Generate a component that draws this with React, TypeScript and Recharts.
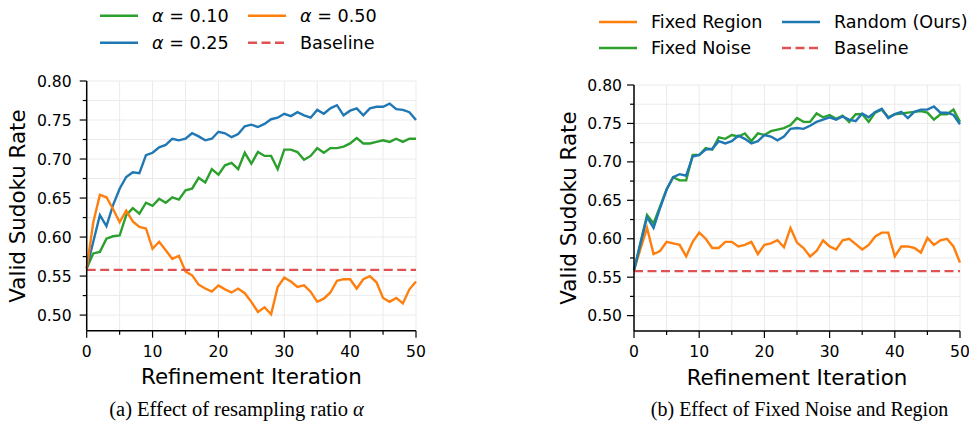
import { LineChart, Line, XAxis, YAxis, CartesianGrid, ReferenceLine } from "recharts"

const iterations = [
  0, 1, 2, 3, 4, 5, 6, 7, 8, 9, 10, 11, 12, 13, 14, 15, 16, 17, 18, 19, 20, 21, 22, 23, 24, 25,
  26, 27, 28, 29, 30, 31, 32, 33, 34, 35, 36, 37, 38, 39, 40, 41, 42, 43, 44, 45, 46, 47, 48, 49, 50,
]

// (a) resampling ratio
const alpha010 = [
  0.560, 0.579, 0.581, 0.598, 0.601, 0.602, 0.628, 0.637, 0.630, 0.644,
  0.640, 0.649, 0.644, 0.651, 0.648, 0.660, 0.662, 0.676, 0.670, 0.687,
  0.680, 0.692, 0.695, 0.687, 0.708, 0.694, 0.709, 0.704, 0.704, 0.687,
  0.712, 0.712, 0.709, 0.699, 0.704, 0.714, 0.708, 0.714, 0.714, 0.716,
  0.720, 0.727, 0.720, 0.720, 0.722, 0.724, 0.722, 0.726, 0.722, 0.726, 0.726,
]
const alpha025 = [
  0.560, 0.594, 0.628, 0.614, 0.641, 0.662, 0.677, 0.683, 0.682, 0.705,
  0.708, 0.715, 0.718, 0.726, 0.724, 0.726, 0.733, 0.729, 0.724, 0.726,
  0.735, 0.733, 0.728, 0.732, 0.742, 0.744, 0.741, 0.745, 0.751, 0.753,
  0.758, 0.755, 0.760, 0.756, 0.753, 0.763, 0.758, 0.765, 0.769, 0.756,
  0.762, 0.765, 0.756, 0.765, 0.767, 0.767, 0.771, 0.764, 0.763, 0.760, 0.750,
]
const alpha050 = [
  0.560, 0.619, 0.654, 0.651, 0.636, 0.619, 0.634, 0.620, 0.613, 0.611,
  0.585, 0.594, 0.583, 0.572, 0.576, 0.556, 0.551, 0.539, 0.534, 0.530,
  0.538, 0.533, 0.529, 0.534, 0.528, 0.517, 0.504, 0.510, 0.501, 0.536,
  0.548, 0.543, 0.536, 0.538, 0.530, 0.517, 0.521, 0.529, 0.544, 0.546,
  0.546, 0.534, 0.546, 0.550, 0.542, 0.522, 0.517, 0.522, 0.515, 0.533, 0.543,
]

// (b) fixed noise / region
const fixedRegion = [
  0.559, 0.587, 0.614, 0.580, 0.584, 0.596, 0.594, 0.592, 0.577, 0.596,
  0.608, 0.600, 0.588, 0.588, 0.596, 0.596, 0.590, 0.592, 0.596, 0.580,
  0.592, 0.594, 0.598, 0.589, 0.614, 0.595, 0.588, 0.577, 0.584, 0.598,
  0.590, 0.586, 0.598, 0.600, 0.593, 0.586, 0.592, 0.603, 0.608, 0.608,
  0.577, 0.590, 0.590, 0.588, 0.582, 0.601, 0.592, 0.598, 0.600, 0.590, 0.569,
]
const fixedNoise = [
  0.559, 0.595, 0.631, 0.620, 0.642, 0.664, 0.680, 0.676, 0.676, 0.709,
  0.709, 0.718, 0.716, 0.732, 0.730, 0.735, 0.733, 0.737, 0.727, 0.737,
  0.735, 0.740, 0.742, 0.744, 0.748, 0.757, 0.752, 0.752, 0.763, 0.758,
  0.761, 0.756, 0.760, 0.752, 0.762, 0.762, 0.752, 0.764, 0.768, 0.758,
  0.762, 0.763, 0.764, 0.765, 0.766, 0.764, 0.755, 0.762, 0.762, 0.768, 0.752,
]
const randomOurs = [
  0.559, 0.594, 0.628, 0.614, 0.640, 0.664, 0.680, 0.684, 0.682, 0.707,
  0.709, 0.716, 0.717, 0.727, 0.724, 0.727, 0.734, 0.730, 0.724, 0.727,
  0.735, 0.733, 0.728, 0.733, 0.743, 0.744, 0.743, 0.747, 0.752, 0.755,
  0.758, 0.755, 0.759, 0.755, 0.753, 0.763, 0.758, 0.765, 0.769, 0.757,
  0.762, 0.765, 0.757, 0.765, 0.768, 0.768, 0.772, 0.764, 0.764, 0.761, 0.749,
]

const baseline = 0.558

const xTicks = [0, 5, 10, 15, 20, 25, 30, 35, 40, 45, 50]
const xLabels = [0, 10, 20, 30, 40, 50]
const yTicks = [0.5, 0.525, 0.55, 0.575, 0.6, 0.625, 0.65, 0.675, 0.7, 0.725, 0.75, 0.775, 0.8]
const yLabels = [0.5, 0.55, 0.6, 0.65, 0.7, 0.75, 0.8]

const leftRows = iterations.map((it, i) => ({
  it,
  a010: alpha010[i],
  a025: alpha025[i],
  a050: alpha050[i],
}))
const rightRows = iterations.map((it, i) => ({
  it,
  region: fixedRegion[i],
  noise: fixedNoise[i],
  random: randomOurs[i],
}))

const FONT = "'DejaVu Sans', sans-serif"
const SERIF = "'Liberation Serif', serif"
const BLUE = "#1f77b4"
const ORANGE = "#ff7f0e"
const GREEN = "#2ca02c"
const RED = "#de5253"
const GRID = "#ebebeb"
const TICK_FS = 15.6
const TITLE_FS = 21.4
const LEGEND_FS = 17.6

function XTick(props: any) {
  const { x, y, payload } = props
  const major = xLabels.includes(payload.value)
  return (
    <g>
      <line x1={x} x2={x} y1={y} y2={y + (major ? 7 : 4)} stroke="#000" strokeWidth={1.2} />
      {major && (
        <text x={x} y={y + 26} textAnchor="middle" fontSize={TICK_FS} fontFamily={FONT} fill="#000">
          {payload.value}
        </text>
      )}
    </g>
  )
}

function makeYTick(gap: number) {
  return (props: any) => {
    const { x, y, payload } = props
    const major = yLabels.some((v) => Math.abs(v - payload.value) < 1e-6)
    return (
      <g>
        <line x1={x - (major ? 7 : 4)} x2={x} y1={y} y2={y} stroke="#000" strokeWidth={1.2} />
        {major && (
          <text x={x - 7 - gap} y={y} dy="0.36em" textAnchor="end" fontSize={TICK_FS} fontFamily={FONT} fill="#000">
            {payload.value.toFixed(2)}
          </text>
        )}
      </g>
    )
  }
}

function LegendItem({ x, y, color, dashed, children }: any) {
  return (
    <g>
      <line
        x1={x}
        x2={x + 38}
        y1={y}
        y2={y}
        stroke={color}
        strokeWidth={2.4}
        strokeDasharray={dashed ? "9 4.5" : undefined}
      />
      <text x={x + 52} y={y} dy="0.36em" fontSize={LEGEND_FS} fontFamily={FONT} fill="#000">
        {children}
      </text>
    </g>
  )
}

function Alpha({ v }: { v: string }) {
  return (
    <>
      <tspan fontStyle="italic">α</tspan>
      <tspan> = {v}</tspan>
    </>
  )
}

export default function App() {
  return (
    <div style={{ position: "absolute", left: 0, top: 0, width: 969, height: 434, background: "#fff" }}>
      <div style={{ position: "absolute", left: 0, top: 0 }}>
        <LineChart width={480} height={434} data={leftRows} margin={{ top: 81, right: 64, bottom: 73.3, left: 26.7 }}>
          <CartesianGrid stroke={GRID} strokeWidth={1} />
          <XAxis
            dataKey="it"
            type="number"
            domain={[0, 50]}
            ticks={xTicks}
            interval={0}
            height={30}
            tickSize={0}
            tickMargin={0}
            tick={XTick}
            axisLine={{ stroke: "#000", strokeWidth: 1.5 }}
          />
          <YAxis
            type="number"
            domain={[0.48, 0.8]}
            ticks={yTicks}
            interval={0}
            width={60}
            tickSize={0}
            tickMargin={0}
            tick={makeYTick(8)}
            allowDataOverflow
            axisLine={{ stroke: "#000", strokeWidth: 1.5 }}
          />
          <Line dataKey="a010" stroke={GREEN} strokeWidth={2.4} dot={false} isAnimationActive={false} />
          <Line dataKey="a025" stroke={BLUE} strokeWidth={2.4} dot={false} isAnimationActive={false} />
          <Line dataKey="a050" stroke={ORANGE} strokeWidth={2.4} dot={false} isAnimationActive={false} />
          <ReferenceLine y={baseline} stroke={RED} strokeWidth={2.3} strokeDasharray="9 4.5" />
        </LineChart>
      </div>
      <div style={{ position: "absolute", left: 484, top: 0 }}>
        <LineChart width={485} height={434} data={rightRows} margin={{ top: 85, right: 9, bottom: 73, left: 90 }}>
          <CartesianGrid stroke={GRID} strokeWidth={1} />
          <XAxis
            dataKey="it"
            type="number"
            domain={[0, 50]}
            ticks={xTicks}
            interval={0}
            height={30}
            tickSize={0}
            tickMargin={0}
            tick={XTick}
            axisLine={{ stroke: "#000", strokeWidth: 1.5 }}
          />
          <YAxis
            type="number"
            domain={[0.48, 0.8]}
            ticks={yTicks}
            interval={0}
            width={60}
            tickSize={0}
            tickMargin={0}
            tick={makeYTick(5)}
            allowDataOverflow
            axisLine={{ stroke: "#000", strokeWidth: 1.5 }}
          />
          <Line dataKey="region" stroke={ORANGE} strokeWidth={2.4} dot={false} isAnimationActive={false} />
          <Line dataKey="noise" stroke={GREEN} strokeWidth={2.4} dot={false} isAnimationActive={false} />
          <Line dataKey="random" stroke={BLUE} strokeWidth={2.4} dot={false} isAnimationActive={false} />
          <ReferenceLine y={baseline} stroke={RED} strokeWidth={2.3} strokeDasharray="9 4.5" />
        </LineChart>
      </div>
      <svg
        width={969}
        height={434}
        style={{ position: "absolute", left: 0, top: 0, pointerEvents: "none" }}
      >
        {/* legend (a) */}
        <LegendItem x={100} y={15.7} color={GREEN}>
          <Alpha v="0.10" />
        </LegendItem>
        <LegendItem x={100} y={42.7} color={BLUE}>
          <Alpha v="0.25" />
        </LegendItem>
        <LegendItem x={248} y={15.7} color={ORANGE}>
          <Alpha v="0.50" />
        </LegendItem>
        <LegendItem x={248} y={42.7} color={RED} dashed>
          Baseline
        </LegendItem>

        {/* legend (b) */}
        <LegendItem x={599} y={22} color={ORANGE}>
          Fixed Region
        </LegendItem>
        <LegendItem x={599} y={48} color={GREEN}>
          Fixed Noise
        </LegendItem>
        <LegendItem x={782} y={22} color={BLUE}>
          Random (Ours)
        </LegendItem>
        <LegendItem x={782} y={48} color={RED} dashed>
          Baseline
        </LegendItem>

        {/* axis titles */}
        <text x={251.4} y={384} textAnchor="middle" fontSize={TITLE_FS} fontFamily={FONT} fill="#000">
          Refinement Iteration
        </text>
        <text x={797} y={384.5} textAnchor="middle" fontSize={TITLE_FS} fontFamily={FONT} fill="#000">
          Refinement Iteration
        </text>
        <text
          transform="translate(25,206) rotate(-90)"
          textAnchor="middle"
          fontSize={TITLE_FS}
          fontFamily={FONT}
          fill="#000"
        >
          Valid Sudoku Rate
        </text>
        <text
          transform="translate(575.5,208) rotate(-90)"
          textAnchor="middle"
          fontSize={TITLE_FS}
          fontFamily={FONT}
          fill="#000"
        >
          Valid Sudoku Rate
        </text>

        {/* captions */}
        <text x={236.5} y={416} textAnchor="middle" fontSize={20.5} fontFamily={SERIF} fill="#000">
          (a) Effect of resampling ratio <tspan fontStyle="italic">α</tspan>
        </text>
        <text x={799.5} y={416} textAnchor="middle" fontSize={20} fontFamily={SERIF} fill="#000">
          (b) Effect of Fixed Noise and Region
        </text>
      </svg>
    </div>
  )
}
